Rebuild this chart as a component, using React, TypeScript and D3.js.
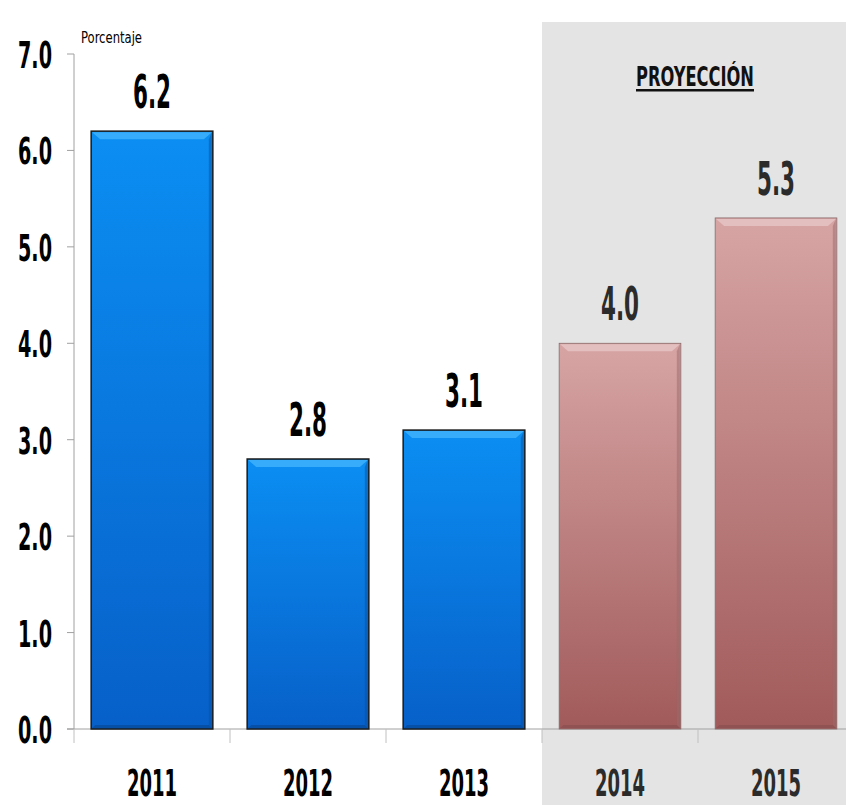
import React from "react";
import * as d3 from "d3";

const years = ["2011", "2012", "2013", "2014", "2015"];
const values = [6.2, 2.8, 3.1, 4.0, 5.3];
const projected = [false, false, false, true, true];
const yTicks = [0, 1, 2, 3, 4, 5, 6, 7];

const W = 846;
const H = 805;
const FONT = "'DejaVu Sans Condensed', 'DejaVu Sans', sans-serif";

export default function App() {
  const y = d3.scaleLinear().domain([0, 7]).range([729, 54]);
  const x = d3
    .scaleBand<string>()
    .domain(years)
    .range([74, 854])
    .paddingInner(0.22)
    .paddingOuter(0.11);
  const bw = x.bandwidth();
  const gap = (x.step() - bw) / 2;
  const y0 = y(0);
  const bev = 8;
  const projX = x("2014")! - gap;
  const projCx = (projX + W) / 2 + 1;

  return (
    <svg
      width={W}
      height={H}
      style={{ position: "absolute", left: 0, top: 0, background: "#fff" }}
    >
      <defs>
        <linearGradient id="gBlue" x1="0" y1="0" x2="0" y2="1">
          <stop offset="0" stopColor="#0b8ef2" />
          <stop offset="1" stopColor="#0760c9" />
        </linearGradient>
        <linearGradient id="gPink" x1="0" y1="0" x2="0" y2="1">
          <stop offset="0" stopColor="#d7a4a4" />
          <stop offset="1" stopColor="#a15a5a" />
        </linearGradient>
      </defs>

      {/* projection background */}
      <rect x={projX} y={22} width={W - projX} height={H - 22} fill="#e4e4e4" />
      <text
        x={projCx}
        y={86}
        textAnchor="middle"
        fontFamily={FONT}
        fontWeight="bold"
        fontSize={27}
        fill="#111"
        textLength={118}
        lengthAdjust="spacingAndGlyphs"
      >
        PROYECCIÓN
      </text>
      <rect x={projCx - 59} y={89} width={118} height={2.5} fill="#111" />

      {/* axes */}
      <line x1={74} x2={74} y1={y(7)} y2={y0} stroke="#a0a0a0" strokeWidth={1} />
      {yTicks.map((t) => (
        <line key={"yt" + t} x1={67} x2={74} y1={y(t)} y2={y(t)} stroke="#a0a0a0" strokeWidth={1} />
      ))}
      <line x1={67} x2={W} y1={y0} y2={y0} stroke="#a0a0a0" strokeWidth={1} />
      {years.map((d) => (
        <line
          key={"xt" + d}
          x1={x(d)! - gap}
          x2={x(d)! - gap}
          y1={y0}
          y2={y0 + 14}
          stroke="#c0c0c0"
          strokeWidth={1}
        />
      ))}

      {/* y tick labels */}
      {yTicks.map((t) => (
        <text
          key={"yl" + t}
          x={52}
          y={y(t) + 14}
          textAnchor="end"
          fontFamily={FONT}
          fontWeight="bold"
          fontSize={38}
          fill="#000"
          textLength={34}
          lengthAdjust="spacingAndGlyphs"
        >
          {t.toFixed(1)}
        </text>
      ))}
      <text
        x={81}
        y={43}
        fontFamily={FONT}
        fontSize={15}
        fill="#000"
        textLength={61}
        lengthAdjust="spacingAndGlyphs"
      >
        Porcentaje
      </text>

      {/* bars */}
      {years.map((d, i) => {
        const bx = x(d)!;
        const by = y(values[i]);
        const bh = y0 - by;
        const proj = projected[i];
        const cx = bx + bw / 2;
        const txtCol = proj ? "#2b2b2b" : "#000";
        return (
          <g key={"b" + d}>
            <rect
              x={bx}
              y={by}
              width={bw}
              height={bh}
              fill={proj ? "url(#gPink)" : "url(#gBlue)"}
              stroke={proj ? "#8a6a6a" : "#1a1a1a"}
              strokeWidth={proj ? 0.8 : 1.5}
            />
            <polygon
              points={`${bx + 1},${by + 1} ${bx + bw - 1},${by + 1} ${bx + bw - 1 - bev},${by + bev} ${bx + 1 + bev},${by + bev}`}
              fill={proj ? "#e6c4c4" : "#3fb2fb"}
              opacity={0.85}
            />
            <polygon
              points={`${bx + bw - 1},${by + 1} ${bx + bw - 1},${y0 - 1} ${bx + bw - 4},${y0 - 4} ${bx + bw - 4},${by + bev}`}
              fill={proj ? "#9a6a6a" : "#0a4f9e"}
              opacity={0.5}
            />
            <polygon
              points={`${bx + 1},${y0 - 1} ${bx + bw - 1},${y0 - 1} ${bx + bw - 4},${y0 - 4} ${bx + 4},${y0 - 4}`}
              fill={proj ? "#7f4a4a" : "#053f85"}
              opacity={0.5}
            />
            <text
              x={cx}
              y={by - 23}
              textAnchor="middle"
              fontFamily={FONT}
              fontWeight="bold"
              fontSize={46}
              fill={txtCol}
              textLength={38}
              lengthAdjust="spacingAndGlyphs"
            >
              {values[i].toFixed(1)}
            </text>
            <text
              x={cx}
              y={796}
              textAnchor="middle"
              fontFamily={FONT}
              fontWeight="bold"
              fontSize={37}
              fill={txtCol}
              textLength={50}
              lengthAdjust="spacingAndGlyphs"
            >
              {d}
            </text>
          </g>
        );
      })}
    </svg>
  );
}
